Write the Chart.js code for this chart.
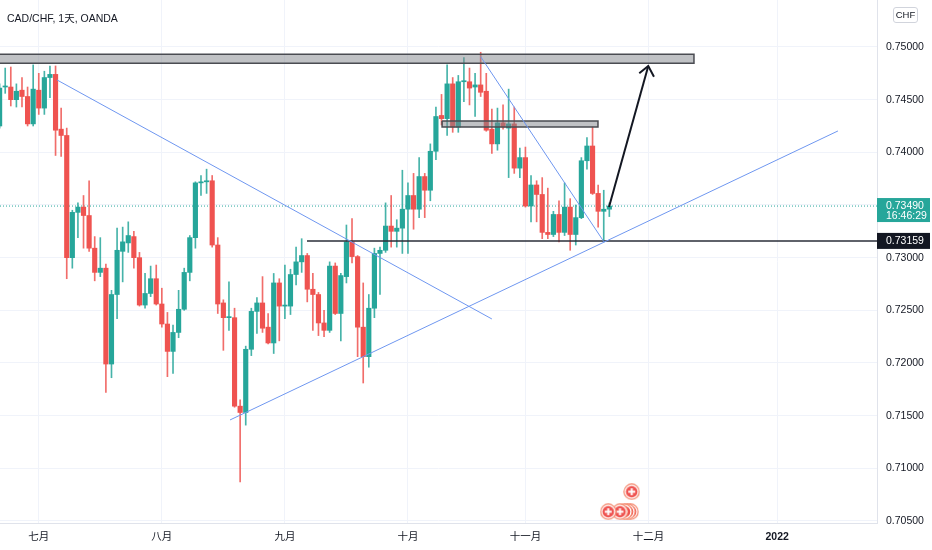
<!DOCTYPE html>
<html>
<head>
<meta charset="utf-8">
<script src="https://cdn.jsdelivr.net/npm/chart.js@4.4.0/dist/chart.umd.min.js"></script>
<style>
  body { margin: 0; background: #fff; }
  #wrap { position: relative; width: 932px; height: 550px; }
  #title { position: absolute; left: 7px; top: 10px; font: 10.5px "Liberation Sans", "Noto Sans CJK SC", sans-serif; color: #131722; }
  #cur { position: absolute; left: 893px; top: 7px; width: 23px; height: 14px; border: 1px solid #d1d4dc; border-radius: 3px;
         font: 9.5px "Liberation Sans", sans-serif; color: #131722; text-align: center; line-height: 14px; }
</style>
</head>
<body>
<div id="wrap">
  <canvas id="chart"></canvas>
  <div id="title">CAD/CHF, 1天, OANDA</div>
  <div id="cur">CHF</div>
</div>
<script>
// daily candles, 22 Jun 2021 .. 22 Nov 2021 (index = trading day)
const opens = [
  0.7425, 0.7462, 0.7462, 0.7450, 0.7459, 0.7453, 0.7427, 0.7459, 0.7442, 0.7471,
  0.7474, 0.7422, 0.7416, 0.7300, 0.7343, 0.7348, 0.7340, 0.7309, 0.7286, 0.7290,
  0.7199, 0.7265, 0.7306, 0.7314, 0.7320, 0.7300, 0.7255, 0.7266, 0.7280, 0.7256,
  0.7237, 0.7211, 0.7229, 0.7251, 0.7286, 0.7319, 0.7371, 0.7372, 0.7373, 0.7312,
  0.7257, 0.7243, 0.7243, 0.7159, 0.7153, 0.7213, 0.7249, 0.7257, 0.7234, 0.7219,
  0.7276, 0.7254, 0.7254, 0.7284, 0.7296, 0.7302, 0.7270, 0.7265, 0.7238, 0.7231,
  0.7292, 0.7247, 0.7282, 0.7315, 0.7301, 0.7234, 0.7206, 0.7252, 0.7304, 0.7307,
  0.7330, 0.7325, 0.7328, 0.7346, 0.7359, 0.7346, 0.7377, 0.7364, 0.7401, 0.7435,
  0.7432, 0.7465, 0.7424, 0.7467, 0.7467, 0.7462, 0.7464, 0.7458, 0.7422, 0.7408,
  0.7428, 0.7423, 0.7427, 0.7385, 0.7395, 0.7349, 0.7369, 0.7360, 0.7324, 0.7322,
  0.7341, 0.7324, 0.7348, 0.7322, 0.7338, 0.7392, 0.7406, 0.7361, 0.7344, 0.7346
];
const highs = [
  0.7465, 0.7480, 0.7481, 0.7465, 0.7471, 0.7462, 0.7483, 0.7475, 0.7477, 0.7482,
  0.7482, 0.7442, 0.7423, 0.7345, 0.7352, 0.7359, 0.7373, 0.7320, 0.7319, 0.7294,
  0.7269, 0.7328, 0.7329, 0.7334, 0.7325, 0.7305, 0.7285, 0.7292, 0.7293, 0.7271,
  0.7248, 0.7236, 0.7269, 0.7290, 0.7321, 0.7372, 0.7378, 0.7384, 0.7378, 0.7319,
  0.7260, 0.7277, 0.7252, 0.7165, 0.7216, 0.7252, 0.7262, 0.7282, 0.7247, 0.7285,
  0.7280, 0.7293, 0.7289, 0.7310, 0.7318, 0.7304, 0.7285, 0.7267, 0.7250, 0.7296,
  0.7295, 0.7285, 0.7331, 0.7337, 0.7302, 0.7276, 0.7265, 0.7309, 0.7310, 0.7352,
  0.7359, 0.7336, 0.7383, 0.7371, 0.7380, 0.7395, 0.7380, 0.7408, 0.7443, 0.7455,
  0.7483, 0.7471, 0.7473, 0.7490, 0.7480, 0.7475, 0.7495, 0.7475, 0.7441, 0.7442,
  0.7445, 0.7460, 0.7443, 0.7404, 0.7405, 0.7378, 0.7373, 0.7376, 0.7366, 0.7344,
  0.7354, 0.7371, 0.7356, 0.7350, 0.7395, 0.7414, 0.7424, 0.7369, 0.7364, 0.7352
];
const lows = [
  0.7423, 0.7456, 0.7444, 0.7443, 0.7443, 0.7425, 0.7425, 0.7436, 0.7436, 0.7452,
  0.7397, 0.7396, 0.7280, 0.7290, 0.7319, 0.7309, 0.7306, 0.7278, 0.7282, 0.7172,
  0.7186, 0.7242, 0.7277, 0.7305, 0.7290, 0.7254, 0.7252, 0.7263, 0.7255, 0.7234,
  0.7187, 0.7190, 0.7224, 0.7250, 0.7278, 0.7309, 0.7359, 0.7361, 0.7310, 0.7247,
  0.7212, 0.7231, 0.7158, 0.7087, 0.7141, 0.7207, 0.7228, 0.7229, 0.7218, 0.7209,
  0.7221, 0.7242, 0.7246, 0.7274, 0.7286, 0.7258, 0.7231, 0.7226, 0.7225, 0.7229,
  0.7246, 0.7221, 0.7276, 0.7295, 0.7206, 0.7181, 0.7196, 0.7243, 0.7265, 0.7305,
  0.7310, 0.7310, 0.7304, 0.7304, 0.7327, 0.7338, 0.7338, 0.7354, 0.7393, 0.7426,
  0.7416, 0.7419, 0.7419, 0.7448, 0.7445, 0.7434, 0.7453, 0.7420, 0.7399, 0.7402,
  0.7422, 0.7376, 0.7380, 0.7376, 0.7348, 0.7334, 0.7334, 0.7318, 0.7318, 0.7320,
  0.7315, 0.7321, 0.7307, 0.7312, 0.7337, 0.7384, 0.7360, 0.7329, 0.7315, 0.7339
];
const closes = [
  0.7461, 0.7463, 0.7450, 0.7458, 0.7453, 0.7427, 0.7460, 0.7442, 0.7471, 0.7474,
  0.7421, 0.7416, 0.7300, 0.7343, 0.7348, 0.7340, 0.7309, 0.7286, 0.7290, 0.7199,
  0.7265, 0.7307, 0.7315, 0.7321, 0.7300, 0.7255, 0.7266, 0.7280, 0.7256, 0.7237,
  0.7211, 0.7229, 0.7251, 0.7286, 0.7319, 0.7371, 0.7372, 0.7373, 0.7312, 0.7256,
  0.7243, 0.7244, 0.7159, 0.7153, 0.7213, 0.7249, 0.7257, 0.7233, 0.7219, 0.7276,
  0.7254, 0.7255, 0.7284, 0.7296, 0.7302, 0.7270, 0.7265, 0.7238, 0.7231, 0.7292,
  0.7247, 0.7283, 0.7315, 0.7301, 0.7234, 0.7206, 0.7252, 0.7304, 0.7307, 0.7330,
  0.7325, 0.7328, 0.7346, 0.7359, 0.7346, 0.7377, 0.7364, 0.7401, 0.7434, 0.7432,
  0.7465, 0.7424, 0.7467, 0.7468, 0.7461, 0.7464, 0.7457, 0.7421, 0.7408, 0.7428,
  0.7424, 0.7427, 0.7385, 0.7395, 0.7349, 0.7369, 0.7360, 0.7324, 0.7322, 0.7341,
  0.7324, 0.7348, 0.7322, 0.7338, 0.7392, 0.7406, 0.7361, 0.7344, 0.7346, 0.7349
];

const monthTicks = [7, 29, 51, 73, 94, 116, 139];
const monthLabels = ['七月', '八月', '九月', '十月', '十一月', '十二月', '2022'];
const priceTicks = [0.705, 0.710, 0.715, 0.720, 0.725, 0.730, 0.735, 0.740, 0.745, 0.750];

const lastPrice = 0.73490;
const countdown = '16:46:29';
const levelPrice = 0.73159;

// drawings on the chart (bar index, price)
const lineFromJuly = [{x: 10.26, y: 0.74687}, {x: 88.0, y: 0.72418}];
const lineRising = [{x: 41.19, y: 0.71459}, {x: 149.87, y: 0.74203}];
const lineFromTop = [{x: 86.0, y: 0.74908}, {x: 108.05, y: 0.73149}];
const levelLine = [{x: 54.95, y: levelPrice}, {x: 156.85, y: levelPrice}];
const arrowShaft = [{x: 108.94, y: 0.73481}, {x: 115.96, y: 0.74820}];
const arrowHead = [{x: 114.35, y: 0.74750}, {x: 115.96, y: 0.74820}, {x: 116.98, y: 0.74718}];
const bigBox = {x1: -1, x2: 124.13, top: 0.74931, bottom: 0.74845};
const smallBox = {x1: 79.1, x2: 106.97, top: 0.74297, bottom: 0.74240};
const eventX = [112.8, 112.25, 111.7, 110.9, 108.8, 113.0];
const eventY = [0.70588, 0.70588, 0.70588, 0.70588, 0.70588, 0.70778];

const GREEN = '#26a69a', RED = '#ef5350', BLUE = '#6f97f0';
const FONT = '"Liberation Sans", "Noto Sans CJK SC", sans-serif';
const XMIN = 0.07, XMAX = 156.85;

const colors = opens.map((o, i) => closes[i] >= o ? GREEN : RED);
const wickColors = opens.map((o, i) => closes[i] >= o ? 'rgba(38,166,154,0.85)' : 'rgba(239,83,80,0.85)');
const wicks = opens.map((o, i) => ({x: i, y: [lows[i], highs[i]]}));
const bodies = opens.map((o, i) => ({x: i, y: [o, closes[i]]}));

function boxSets(b) {
  return [
    {type: 'line', data: [{x: b.x1, y: b.top}, {x: b.x2, y: b.top}], borderWidth: 0, pointRadius: 0,
     fill: '+1', backgroundColor: 'rgba(130,133,140,0.5)', order: 2},
    {type: 'line', data: [{x: b.x1, y: b.bottom}, {x: b.x2, y: b.bottom}], borderWidth: 0, pointRadius: 0, fill: false, order: 2},
    {type: 'line', data: [{x: b.x1, y: b.top}, {x: b.x2, y: b.top}, {x: b.x2, y: b.bottom}, {x: b.x1, y: b.bottom}, {x: b.x1, y: b.top}],
     borderColor: '#4a4c52', borderWidth: 1.5, pointRadius: 0, fill: false, tension: 0, order: 1}
  ];
}

function line(data, color, width, extra) {
  return Object.assign({type: 'line', data: data, borderColor: color, borderWidth: width, pointRadius: 0, fill: false, tension: 0, order: 1}, extra || {});
}

// red event marker
const icon = document.createElement('canvas');
icon.width = 17; icon.height = 17;
const g = icon.getContext('2d');
g.beginPath(); g.arc(8.5, 8.5, 7.6, 0, Math.PI * 2);
g.fillStyle = '#fff'; g.fill(); g.strokeStyle = '#f4896f'; g.lineWidth = 1.2; g.stroke();
g.beginPath(); g.arc(8.5, 8.5, 5.8, 0, Math.PI * 2); g.fillStyle = RED; g.fill();
g.fillStyle = '#fff'; g.fillRect(7.5, 5, 2, 7); g.fillRect(5, 7.5, 7, 2);

const axisLabels = {
  id: 'axisLabels',
  afterDraw(chart) {
    const {ctx, chartArea, scales: {y}} = chart;
    const x0 = chartArea.right;
    ctx.save();
    ctx.font = '10.5px ' + FONT;
    ctx.textBaseline = 'middle';
    let py = y.getPixelForValue(lastPrice);
    ctx.fillStyle = GREEN;
    ctx.fillRect(x0, py - 8, 53, 24);
    ctx.fillStyle = '#fff';
    ctx.fillText(lastPrice.toFixed(5), x0 + 9, py + 0.5);
    ctx.fillText(countdown, x0 + 9, py + 10.5);
    py = y.getPixelForValue(levelPrice);
    ctx.fillStyle = '#131722';
    ctx.fillRect(x0, py - 8, 53, 16);
    ctx.fillStyle = '#fff';
    ctx.fillText(levelPrice.toFixed(5), x0 + 9, py + 0.5);
    ctx.restore();
  }
};

new Chart(document.getElementById('chart'), {
  type: 'bar',
  data: {
    datasets: [
      {type: 'line', data: eventX.map((x, i) => ({x: x, y: eventY[i]})), showLine: false,
       pointStyle: icon, pointRadius: 8, order: 0},
      line(arrowShaft, '#131722', 2),
      line(arrowHead, '#131722', 2),
      line(lineFromJuly, BLUE, 1),
      line(lineRising, BLUE, 1),
      line(lineFromTop, BLUE, 1),
      line(levelLine, '#2a2e39', 1.5),
      ...boxSets(bigBox),
      ...boxSets(smallBox),
      line([{x: XMIN, y: lastPrice}, {x: XMAX, y: lastPrice}], GREEN, 1, {borderDash: [1, 2], order: 9}),
      {type: 'bar', data: bodies, backgroundColor: colors, barThickness: 4.5, minBarLength: 1, grouped: false, order: 4},
      {type: 'bar', data: wicks, backgroundColor: wickColors, barThickness: 1, grouped: false, order: 5}
    ]
  },
  options: {
    responsive: true,
    maintainAspectRatio: false,
    animation: false,
    events: [],
    layout: {padding: 0, autoPadding: false},
    plugins: {legend: {display: false}, tooltip: {enabled: false}},
    scales: {
      x: {
        type: 'linear', min: XMIN, max: XMAX, offset: false, bounds: 'data',
        grid: {color: '#f0f3fa', drawTicks: false, offset: false},
        border: {color: '#e0e3eb'},
        ticks: {
          autoSkip: false, maxRotation: 0, padding: 8, color: '#131722',
          font: ctx => ({family: FONT, size: 10.5, weight: ctx.index === 6 ? 'bold' : 'normal'}),
          callback: (v, i) => monthLabels[i]
        },
        afterBuildTicks: s => { s.ticks = monthTicks.map(v => ({value: v})); },
        afterFit: s => { s.height = 27; s.paddingLeft = 0; s.paddingRight = 0; }
      },
      y: {
        type: 'linear', position: 'right', min: 0.704808, max: 0.754462, bounds: 'data',
        grid: {color: '#f0f3fa', drawTicks: false},
        border: {color: '#e0e3eb'},
        ticks: {padding: 9, color: '#131722', font: {family: FONT, size: 10.5}, callback: v => v.toFixed(5)},
        afterBuildTicks: s => { s.ticks = priceTicks.map(v => ({value: v})); },
        afterFit: s => { s.width = 55; s.paddingTop = 0; s.paddingBottom = 0; }
      }
    }
  },
  plugins: [axisLabels]
});
</script>
</body>
</html>
